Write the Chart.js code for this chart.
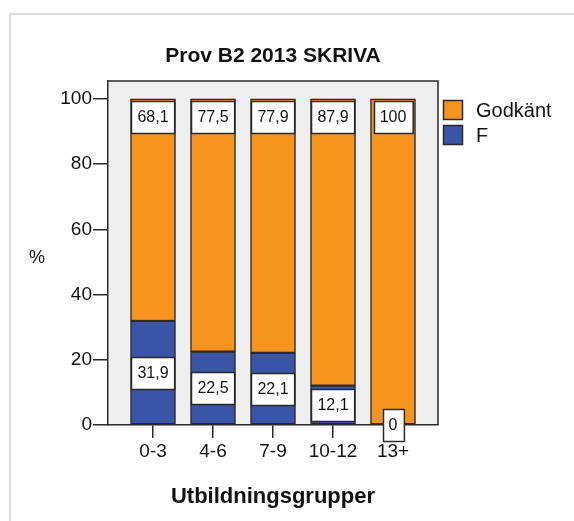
<!DOCTYPE html>
<html><head><meta charset="utf-8">
<script src="https://cdn.jsdelivr.net/npm/chart.js@4/dist/chart.umd.min.js"></script>
<style>html,body{margin:0;padding:0;background:#fff}#wrap{width:574px;height:521px}</style>
</head><body><div id="wrap"><canvas id="c" width="574" height="521"></canvas></div>
<script>
const categories = ['0-3', '4-6', '7-9', '10-12', '13+'];
const fValues = [31.9, 22.5, 22.1, 12.1, 0];
const godkantValues = [68.1, 77.5, 77.9, 87.9, 100];
const yTickValues = [0, 20, 40, 60, 80, 100];
const chartTitle = 'Prov B2 2013 SKRIVA';
const xTitle = 'Utbildningsgrupper';
const yTitle = '%';

const FONT = '"Liberation Sans", Arial, sans-serif';
const DARK = '#2a2a2a';

function fmt(v) { return Number.isInteger(v) ? String(v) : v.toFixed(1).replace('.', ','); }

const decor = {
  id: 'decor',
  beforeDraw(chart) {
    const {ctx, chartArea: a} = chart;
    ctx.save();
    ctx.fillStyle = '#fff';
    ctx.fillRect(0, 0, chart.width, chart.height);
    ctx.strokeStyle = '#dcdcdc';
    ctx.lineWidth = 2;
    ctx.beginPath();
    ctx.moveTo(10, chart.height); ctx.lineTo(10, 14); ctx.lineTo(chart.width, 14);
    ctx.stroke();
    ctx.fillStyle = '#efefef';
    ctx.fillRect(a.left, a.top, a.right - a.left, a.bottom - a.top);
    ctx.strokeStyle = DARK;
    ctx.lineWidth = 1.5;
    ctx.beginPath();
    ctx.moveTo(a.left, a.top); ctx.lineTo(a.right, a.top); ctx.lineTo(a.right, a.bottom);
    ctx.stroke();
    ctx.restore();
  },
  afterDatasetsDraw(chart) {
    const ctx = chart.ctx;
    ctx.save();
    ctx.font = '16px ' + FONT;
    ctx.textAlign = 'center';
    ctx.textBaseline = 'middle';
    chart.data.datasets.forEach((ds, di) => {
      const meta = chart.getDatasetMeta(di);
      meta.data.forEach((bar, i) => {
        const v = ds.data[i].y;
        const txt = fmt(v);
        const tw = ctx.measureText(txt).width;
        const w = Math.min(tw + 12, 45);
        const h = 32;
        const cy = ds.labelPos === 'top' ? Math.min(bar.y, bar.base) + 2 + h / 2 : (bar.y + bar.base) / 2;
        const x0 = Math.round(bar.x - w / 2) + 0.5, y0 = Math.round(cy - h / 2) + 0.5;
        ctx.fillStyle = '#fff';
        ctx.fillRect(x0, y0, w, h);
        ctx.strokeStyle = DARK;
        ctx.lineWidth = 1.5;
        ctx.strokeRect(x0, y0, w, h);
        ctx.fillStyle = '#111';
        ctx.fillText(txt, bar.x, cy + 1);
      });
    });
    ctx.restore();
  },
  afterDraw(chart) {
    const ctx = chart.ctx;
    ctx.save();
    ctx.fillStyle = '#111';
    ctx.font = '18px ' + FONT;
    ctx.textAlign = 'center';
    ctx.textBaseline = 'middle';
    ctx.fillText(yTitle, 37, 258);
    const items = chart.data.datasets.slice().reverse();
    ctx.font = '20px ' + FONT;
    ctx.textAlign = 'left';
    items.forEach((ds, i) => {
      const y = 100 + i * 25;
      ctx.fillStyle = ds.backgroundColor;
      ctx.fillRect(443.5, y + 0.5, 19, 19);
      ctx.strokeStyle = DARK;
      ctx.lineWidth = 1.5;
      ctx.strokeRect(443.5, y + 0.5, 19, 19);
      ctx.fillStyle = '#111';
      ctx.fillText(ds.label, 476, y + 11);
    });
    ctx.restore();
  }
};

new Chart(document.getElementById('c'), {
  type: 'bar',
  data: {
    datasets: [
      { label: 'F', data: fValues.map((v, i) => ({x: i, y: v})), backgroundColor: '#3a55a8',
        borderColor: DARK, borderWidth: 1.5, borderSkipped: false, barThickness: 45, labelPos: 'center' },
      { label: 'Godkänt', data: godkantValues.map((v, i) => ({x: i, y: v})), backgroundColor: '#f7941e',
        borderColor: DARK, borderWidth: 1.5, borderSkipped: false, barThickness: 45, labelPos: 'top' }
    ]
  },
  options: {
    responsive: false,
    animation: false,
    devicePixelRatio: 1,
    layout: { padding: { left: 0, right: 136, top: 0, bottom: 0 } },
    plugins: {
      legend: { display: false },
      tooltip: { enabled: false },
      title: {
        display: true, text: chartTitle, fullSize: false, color: '#111',
        font: { family: FONT, size: 21, weight: 'bold', lineHeight: 1.2 },
        padding: { top: 43.4, bottom: 12.4 }
      }
    },
    scales: {
      x: {
        type: 'linear', stacked: true, min: -0.75, max: 4.75, offset: false,
        afterBuildTicks: s => { s.ticks = categories.map((c, i) => ({value: i})); },
        afterFit: s => { s.height = 96; },
        ticks: { callback: v => categories[v], color: '#111', padding: 2.6,
          font: { family: FONT, size: 19 }, maxRotation: 0, autoSkip: false },
        grid: { offset: false, drawOnChartArea: false, tickLength: 13, color: DARK, lineWidth: 1.5 },
        border: { display: true, color: DARK, width: 1.5 },
        title: { display: true, text: xTitle, color: '#111',
          font: { family: FONT, size: 22, weight: 'bold', lineHeight: 1.2 },
          padding: { top: 0, bottom: 10.8 } }
      },
      y: {
        stacked: true, min: 0, max: 105.5,
        afterBuildTicks: s => { s.ticks = yTickValues.map(v => ({value: v})); },
        afterFit: s => { s.width = 108; },
        ticks: { color: '#111', padding: 1, font: { family: FONT, size: 19 } },
        grid: { drawOnChartArea: false, tickLength: 15, color: DARK, lineWidth: 1.5 },
        border: { display: true, color: DARK, width: 1.5 }
      }
    }
  },
  plugins: [decor]
});
</script>
</body></html>
